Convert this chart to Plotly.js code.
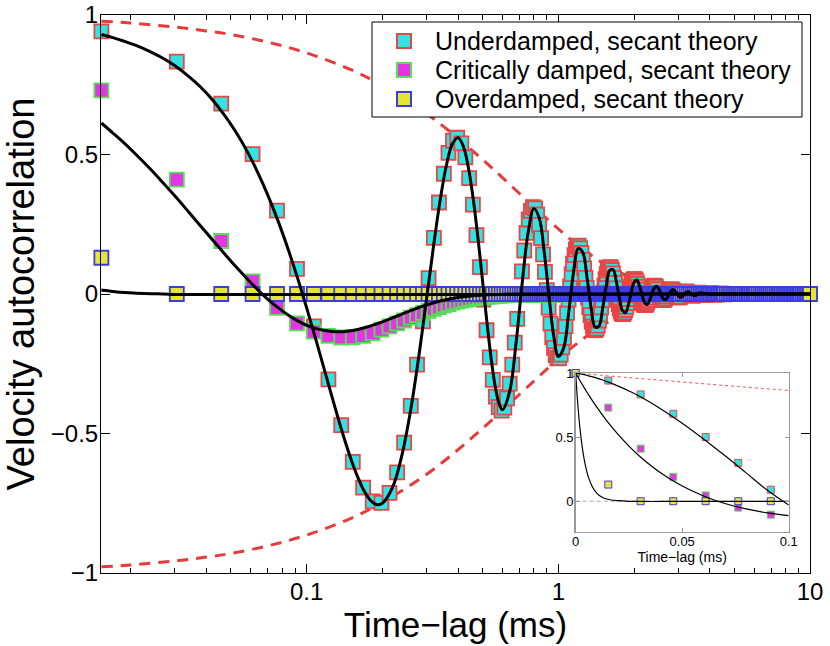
<!DOCTYPE html>
<html>
<head>
<meta charset="utf-8">
<script src="https://cdn.plot.ly/plotly-3.0.1.min.js"></script>
<style>
html, body { margin: 0; padding: 0; background: #ffffff; }
#chart { width: 830px; height: 646px; }
</style>
</head>
<body>
<div id="chart"></div>
<script>
// ---------------- data ----------------
const legendLabels = ['Underdamped, secant theory', 'Critically damped, secant theory', 'Overdamped, secant theory'];
const xTitle = 'Time\u2212lag (ms)';
const yTitle = 'Velocity autocorrelation';
const xTickVals = [0.1, 1, 10];
const xTickText = ['0.1', '1', '10'];
const xMinorTickVals = [0.02, 0.03, 0.04, 0.05, 0.06, 0.07, 0.08, 0.09, 0.2, 0.3, 0.4, 0.5, 0.6, 0.7, 0.8, 0.9, 2, 3, 4, 5, 6, 7, 8, 9];
const yTickVals = [-1, -0.5, 0, 0.5, 1];
const yTickText = ['\u22121', '\u22120.5', '0', '0.5', '1'];
const insetXTickVals = [0, 0.05, 0.1];
const insetXTickText = ['0', '0.05', '0.1'];
const insetYTickVals = [0, 0.5, 1];
const insetYTickText = ['0', '0.5', '1'];

// sampled time lags (ms)
const timeLag = [
0, 0.0153, 0.0305, 0.0458, 0.0610, 0.0763, 0.0916, 0.1068, 0.1221, 0.1373,
0.1526, 0.1678, 0.1831, 0.1984, 0.2136, 0.2289, 0.2441, 0.2594, 0.2747, 0.2899,
0.3052, 0.3204, 0.3357, 0.3510, 0.3662, 0.3815, 0.3967, 0.4120, 0.4273, 0.4425,
0.4578, 0.4730, 0.4883, 0.5035, 0.5188, 0.5341, 0.5493, 0.5646, 0.5798, 0.5951,
0.6104, 0.6256, 0.6409, 0.6561, 0.6714, 0.6867, 0.7019, 0.7172, 0.7324, 0.7477,
0.7630, 0.7782, 0.7935, 0.8087, 0.8240, 0.8392, 0.8545, 0.8698, 0.8850, 0.9003,
0.9155, 0.9308, 0.9461, 0.9613, 0.9766, 0.9918, 1.0071, 1.0224, 1.0376, 1.0529,
1.0681, 1.0834, 1.0986, 1.1139, 1.1292, 1.1444, 1.1597, 1.1749, 1.1902, 1.2055,
1.2207, 1.2360, 1.2512, 1.2665, 1.2818, 1.2970, 1.3123, 1.3275, 1.3428, 1.3581,
1.3733, 1.3886, 1.4038, 1.4191, 1.4343, 1.4496, 1.4649, 1.4801, 1.4954, 1.5106,
1.5259, 1.5412, 1.5564, 1.5717, 1.5869, 1.6022, 1.6175, 1.6327, 1.6480, 1.6632,
1.6785, 1.6937, 1.7090, 1.7243, 1.7395, 1.7548, 1.7700, 1.7853, 1.8006, 1.8158,
1.8311, 1.8463, 1.8616, 1.8769, 1.8921, 1.9074, 1.9226, 1.9379, 1.9532, 1.9684,
1.9837, 1.9989, 2.0142, 2.0294, 2.0447, 2.0600, 2.0752, 2.0905, 2.1057, 2.1210,
2.1363, 2.1515, 2.1668, 2.1820, 2.1973, 2.2126, 2.2278, 2.2431, 2.2583, 2.2736,
2.2889,
2.3194, 2.3499, 2.3804, 2.4109, 2.4414, 2.4720, 2.5025, 2.5330, 2.5635, 2.5940,
2.6245, 2.6551, 2.6856, 2.7161, 2.7466, 2.7771, 2.8077, 2.8382, 2.8687, 2.8992,
2.9297, 2.9602, 2.9908, 3.0213, 3.0518,
3.1128, 3.1739, 3.2349, 3.2959, 3.3570, 3.4180, 3.4791, 3.5401, 3.6011, 3.6622,
3.7232, 3.7842, 3.8453, 3.9063, 3.9673, 4.0284, 4.0894, 4.1504, 4.2115, 4.2725,
4.3336, 4.3946, 4.4556, 4.5167, 4.5777,
4.6693, 4.7608, 4.8524, 4.9439, 5.0355, 5.1270, 5.2186, 5.3101, 5.4017, 5.4932,
5.5848, 5.6763, 5.7679, 5.8595, 5.9510, 6.0426, 6.1341,
6.2562, 6.3783, 6.5003, 6.6224, 6.7445, 6.8666, 6.9886, 7.1107, 7.2328, 7.3548,
7.4769, 7.5990, 7.7211, 7.8431, 7.9652, 8.0873, 8.2093, 8.3314, 8.4535, 8.5756,
8.6976, 8.8197, 8.9418, 9.0638, 9.1859,
9.3385, 9.4911, 9.6437, 9.7963, 9.9489, 9.9946
];

// secant-theory markers
const underdamped = [
1, 0.941, 0.833, 0.682, 0.501, 0.299, 0.090, -0.116, -0.306, -0.470,
-0.602, -0.694, -0.743, -0.749, -0.713, -0.639, -0.533, -0.401, -0.253, -0.098,
0.057, 0.201, 0.328, 0.431, 0.506, 0.550, 0.560, 0.540, 0.490, 0.415,
0.320, 0.211, 0.096, -0.020, -0.130, -0.227, -0.308, -0.368, -0.405, -0.418,
-0.407, -0.374, -0.321, -0.253, -0.174, -0.089, -0.002, 0.081, 0.156, 0.219,
0.267, 0.298, 0.311, 0.307, 0.285, 0.248, 0.200, 0.142, 0.079, 0.014,
-0.049, -0.106, -0.155, -0.193, -0.219, -0.231, -0.230, -0.217, -0.191, -0.157,
-0.115, -0.068, -0.020, 0.027, 0.071, 0.109, 0.139, 0.160, 0.171, 0.173,
0.164, 0.147, 0.122, 0.092, 0.058, 0.022, -0.013, -0.047, -0.076, -0.100,
-0.117, -0.127, -0.129, -0.124, -0.113, -0.095, -0.073, -0.048, -0.022, 0.005,
0.030, 0.053, 0.071, 0.085, 0.093, 0.096, 0.094, 0.086, 0.074, 0.058,
0.040, 0.020, 0.000, -0.019, -0.036, -0.051, -0.062, -0.069, -0.072, -0.071,
-0.066, -0.057, -0.046, -0.033, -0.018, -0.003, 0.011, 0.025, 0.036, 0.045,
0.050, 0.053, 0.053, 0.050, 0.044, 0.036, 0.026, 0.016, 0.004, -0.006,
-0.016, -0.025, -0.032, -0.037, -0.039, -0.040, -0.038, -0.034, -0.028, -0.021,
-0.013,
0.003, 0.018, 0.027, 0.030, 0.026, 0.017, 0.005, -0.007, -0.016, -0.022,
-0.022, -0.017, -0.009, 0.000, 0.008, 0.014, 0.017, 0.015, 0.011, 0.004,
-0.003, -0.008, -0.012, -0.012, -0.010,
-0.001, 0.007, 0.009, 0.003, -0.004, -0.007, -0.004, 0.002, 0.005, 0.004,
0.000, -0.003, -0.003, -0.001, 0.002, 0.003, 0.001, -0.001, -0.002, -0.001,
0.000, 0.001, 0.001, 0.000, -0.001,
0, 0, 0, 0, 0, 0, 0, 0, 0, 0,
0, 0, 0, 0, 0, 0, 0, 0, 0, 0,
0, 0, 0, 0, 0, 0, 0, 0, 0, 0,
0, 0, 0, 0, 0, 0, 0, 0, 0, 0,
0, 0, 0, 0, 0, 0, 0, 0
];

const criticallyDamped = [
1, 0.73, 0.41, 0.19, 0.045, -0.05, -0.105, -0.135, -0.150, -0.156,
-0.155, -0.150, -0.140, -0.128, -0.116, -0.105, -0.095, -0.085, -0.076, -0.068,
-0.060, -0.053, -0.047, -0.041, -0.036, -0.031, -0.027, -0.024, -0.021, -0.018,
-0.016, -0.014, -0.012, -0.011, -0.010, -0.009, -0.008, -0.007, -0.006, -0.006,
-0.005, -0.004, -0.004, -0.004, -0.004, -0.003, -0.003, -0.003, -0.003, -0.003,
-0.003, -0.002, -0.002, -0.002, -0.002, -0.002, -0.002, -0.002, -0.002, -0.001,
-0.001, -0.001, -0.001, -0.001, -0.001, -0.001, -0.001, -0.001, -0.001, -0.001,
-0.001,
0, 0, 0, 0, 0, 0, 0, 0, 0, 0,
0, 0, 0, 0, 0, 0, 0, 0, 0, 0,
0, 0, 0, 0, 0, 0, 0, 0, 0, 0,
0, 0, 0, 0, 0, 0, 0, 0, 0, 0,
0, 0, 0, 0, 0, 0, 0, 0, 0, 0,
0, 0, 0, 0, 0, 0, 0, 0, 0, 0,
0, 0, 0, 0, 0, 0, 0, 0, 0, 0,
0, 0, 0, 0, 0, 0, 0, 0, 0, 0,
0, 0, 0, 0, 0, 0, 0, 0, 0, 0,
0, 0, 0, 0, 0, 0, 0, 0, 0, 0,
0, 0, 0, 0, 0, 0, 0, 0, 0, 0,
0, 0, 0, 0, 0, 0, 0, 0, 0, 0,
0, 0, 0, 0, 0, 0, 0, 0, 0, 0,
0, 0, 0, 0, 0, 0, 0, 0, 0, 0,
0, 0, 0, 0, 0, 0, 0, 0, 0, 0,
0, 0, 0, 0, 0, 0, 0, 0, 0, 0,
0, 0, 0, 0, 0, 0, 0, 0, 0, 0,
0, 0, 0, 0, 0, 0, 0, 0
];

const overdamped = [
1, 0.13,
0, 0, 0, 0, 0, 0, 0, 0, 0, 0,
0, 0, 0, 0, 0, 0, 0, 0, 0, 0,
0, 0, 0, 0, 0, 0, 0, 0, 0, 0,
0, 0, 0, 0, 0, 0, 0, 0, 0, 0,
0, 0, 0, 0, 0, 0, 0, 0, 0, 0,
0, 0, 0, 0, 0, 0, 0, 0, 0, 0,
0, 0, 0, 0, 0, 0, 0, 0, 0, 0,
0, 0, 0, 0, 0, 0, 0, 0, 0, 0,
0, 0, 0, 0, 0, 0, 0, 0, 0, 0,
0, 0, 0, 0, 0, 0, 0, 0, 0, 0,
0, 0, 0, 0, 0, 0, 0, 0, 0, 0,
0, 0, 0, 0, 0, 0, 0, 0, 0, 0,
0, 0, 0, 0, 0, 0, 0, 0, 0, 0,
0, 0, 0, 0, 0, 0, 0, 0, 0, 0,
0, 0, 0, 0, 0, 0, 0, 0, 0, 0,
0, 0, 0, 0, 0, 0, 0, 0, 0, 0,
0, 0, 0, 0, 0, 0, 0, 0, 0, 0,
0, 0, 0, 0, 0, 0, 0, 0, 0, 0,
0, 0, 0, 0, 0, 0, 0, 0, 0, 0,
0, 0, 0, 0, 0, 0, 0, 0, 0, 0,
0, 0, 0, 0, 0, 0, 0, 0, 0, 0,
0, 0, 0, 0, 0, 0, 0, 0, 0, 0,
0, 0, 0, 0, 0, 0, 0, 0, 0, 0,
0, 0, 0, 0, 0, 0, 0, 0, 0, 0,
0, 0, 0, 0, 0, 0, 0
];

// exact theory (black curves)
const theoryTime = [
0.0153, 0.017, 0.019, 0.021, 0.024, 0.027, 0.030, 0.034, 0.038, 0.042,
0.047, 0.052, 0.058, 0.064, 0.070, 0.077, 0.085, 0.093, 0.10, 0.11,
0.12, 0.13, 0.14, 0.15, 0.16, 0.17, 0.18, 0.19, 0.20,
0.22, 0.24, 0.26, 0.28, 0.30, 0.32, 0.34, 0.36, 0.38, 0.40,
0.42, 0.44, 0.46, 0.48, 0.50, 0.52, 0.54, 0.56, 0.58, 0.60,
0.64, 0.68, 0.72, 0.76, 0.80, 0.84, 0.88, 0.92, 0.96, 1.00,
1.05, 1.10, 1.15, 1.20, 1.25, 1.30, 1.35, 1.40, 1.45, 1.50,
1.55, 1.60, 1.65, 1.70, 1.75, 1.80, 1.85, 1.90, 1.95, 2.00,
2.05, 2.10, 2.15, 2.20, 2.25, 2.30, 2.35, 2.40, 2.45, 2.50,
2.56, 2.62, 2.68, 2.74, 2.80, 2.86, 2.92, 2.98, 3.04, 3.10,
3.16, 3.22, 3.28, 3.34, 3.40, 3.46, 3.52, 3.58, 3.64, 3.70,
4.0, 5.0, 6.0, 8.0, 10.0
];
const underdampedTheory = [
0.930, 0.919, 0.905, 0.891, 0.868, 0.844, 0.818, 0.780, 0.741, 0.699,
0.643, 0.585, 0.512, 0.435, 0.356, 0.262, 0.153, 0.045, -0.049, -0.178,
-0.299, -0.410, -0.508, -0.591, -0.658, -0.709, -0.741, -0.755, -0.750,
-0.691, -0.572, -0.408, -0.215, -0.014, 0.177, 0.341, 0.465, 0.539, 0.560,
0.528, 0.450, 0.336, 0.197, 0.048, -0.097, -0.225, -0.325, -0.389, -0.415,
-0.351, -0.173, 0.046, 0.224, 0.306, 0.272, 0.148, -0.014, -0.153, -0.224,
-0.194, -0.066, 0.079, 0.163, 0.150, 0.060, -0.049, -0.118, -0.115, -0.053,
0.029, 0.084, 0.088, 0.045, -0.016, -0.060, -0.067, -0.038, 0.007, 0.042,
0.050, 0.031, -0.002, -0.030, -0.038, -0.025, -0.001, 0.020, 0.028, 0.020,
-0.001, -0.018, -0.019, -0.006, 0.009, 0.016, 0.009, -0.003, -0.011, -0.010,
-0.002, 0.006, 0.008, 0.004, -0.002, -0.006, -0.005, 0.000, 0.004, 0.004,
0.000, 0, 0, 0, 0
];
const smoothTime = [
0.0153, 0.017, 0.019, 0.021, 0.024, 0.027, 0.030, 0.034, 0.038, 0.042,
0.047, 0.052, 0.058, 0.064, 0.070, 0.077, 0.085, 0.093, 0.10, 0.11,
0.12, 0.13, 0.14, 0.15, 0.16, 0.17, 0.18, 0.19, 0.20,
0.22, 0.24, 0.26, 0.28, 0.30, 0.34, 0.38, 0.42, 0.46, 0.50,
0.60, 0.70, 0.80, 1.0, 1.5, 2.0, 3.0, 5.0, 10.0
];
const criticalTheory = [
0.613, 0.577, 0.538, 0.500, 0.447, 0.397, 0.351, 0.294, 0.243, 0.197,
0.146, 0.101, 0.055, 0.015, -0.018, -0.049, -0.077, -0.098, -0.112, -0.125,
-0.132, -0.135, -0.135, -0.132, -0.127, -0.121, -0.114, -0.107, -0.100,
-0.085, -0.071, -0.059, -0.048, -0.039, -0.025, -0.016, -0.010, -0.006, -0.004,
-0.001, 0.000, 0, 0, 0, 0, 0, 0, 0
];
const overdampedTheory = [
0.014, 0.009, 0.005, 0.003, 0.001, 0, -0.002, -0.002, -0.002, -0.002,
-0.002, -0.002, -0.002, -0.002, -0.002, -0.002, -0.002, -0.002, -0.002, -0.002,
-0.002, -0.002, -0.002, -0.002, -0.002, -0.002, -0.002, -0.002, -0.002,
-0.002, -0.002, -0.002, -0.002, -0.002, -0.002, -0.002, -0.002, -0.002, -0.002,
-0.002, -0.002, -0.002, -0.001, -0.001, 0, 0, 0, 0
];

// damping envelope (red dashed)
const envelopeTime = [0.0153, 0.02, 0.03, 0.04, 0.05, 0.07, 0.1, 0.15, 0.2, 0.3, 0.4, 0.5, 0.6, 0.8, 1.0, 1.2, 1.5, 2.0, 2.5, 3.0, 4.0, 6.0, 10.0];
const envelopeUpper = [0.978, 0.971, 0.957, 0.943, 0.930, 0.903, 0.864, 0.804, 0.747, 0.646, 0.558, 0.482, 0.417, 0.312, 0.233, 0.174, 0.112, 0.054, 0.026, 0.013, 0.003, 0.000, 0.000];
const envelopeLower = [-0.978, -0.971, -0.957, -0.943, -0.930, -0.903, -0.864, -0.804, -0.747, -0.646, -0.558, -0.482, -0.417, -0.312, -0.233, -0.174, -0.112, -0.054, -0.026, -0.013, -0.003, 0.000, 0.000];

// inset (linear time axis)
const insetTime = [0, 0.001, 0.002, 0.003, 0.004, 0.005, 0.006, 0.008, 0.010, 0.012, 0.015, 0.020, 0.025, 0.030, 0.040, 0.050, 0.060, 0.070, 0.080, 0.090, 0.100];
const insetUnderTheory = [1.000, 0.997, 0.994, 0.990, 0.987, 0.983, 0.978, 0.970, 0.960, 0.949, 0.931, 0.898, 0.860, 0.818, 0.720, 0.609, 0.486, 0.356, 0.221, 0.085, -0.030];
const insetCritTheory = [1.000, 0.970, 0.941, 0.913, 0.885, 0.858, 0.832, 0.781, 0.732, 0.685, 0.619, 0.519, 0.430, 0.351, 0.220, 0.118, 0.041, -0.018, -0.060, -0.091, -0.112];
const insetOverTheory = [1.000, 0.756, 0.571, 0.432, 0.326, 0.247, 0.186, 0.107, 0.061, 0.035, 0.015, 0.004, -0.001, -0.002, -0.002, -0.002, -0.002, -0.002, -0.002, -0.002, -0.002];
const insetEnvTime = [0, 0.025, 0.05, 0.075, 0.1];
const insetEnvelope = [1, 0.964, 0.930, 0.896, 0.864];
const insetZeroTime = [0, 0.1];
const insetZeroLine = [0, 0];

// ---------------- styles ----------------
const FONT = 'Liberation Sans, Arial, Helvetica, sans-serif';
const W = 830, H = 646;
const M = {l: 101, r: 20, t: 15, b: 73};
const PW = W - M.l - M.r, PH = H - M.t - M.b;
const px2x = function (px) { return (px - M.l) / PW; };
const py2y = function (py) { return (H - M.b - py) / PH; };

const styles = [
  {fill: '#33E3E3', edge: '#E84545'},
  {fill: '#E236E2', edge: '#55E055'},
  {fill: '#E6E632', edge: '#3C3CE6'}
];
const seriesY = [underdamped, criticallyDamped, overdamped];

const traces = [];
// envelope (main)
traces.push({x: envelopeTime, y: envelopeUpper, mode: 'lines', line: {color: '#E83A3A', width: 3, dash: '11px,8px', shape: 'spline'}, showlegend: false, hoverinfo: 'skip'});
traces.push({x: envelopeTime, y: envelopeLower, mode: 'lines', line: {color: '#E83A3A', width: 3, dash: '11px,8px', shape: 'spline'}, showlegend: false, hoverinfo: 'skip'});
// markers (main)
for (let i = 0; i < 3; i++) {
  traces.push({
    x: timeLag, y: seriesY[i], mode: 'markers', name: legendLabels[i],
    marker: {symbol: 'square', size: 14, color: styles[i].fill, line: {color: styles[i].edge, width: 1.8}},
    cliponaxis: false, showlegend: false
  });
}
// theory lines (main)
traces.push({x: theoryTime, y: underdampedTheory, mode: 'lines', line: {color: '#000', width: 3, shape: 'spline', smoothing: 1}, showlegend: false});
traces.push({x: smoothTime, y: criticalTheory, mode: 'lines', line: {color: '#000', width: 3, shape: 'spline', smoothing: 1}, showlegend: false});
traces.push({x: smoothTime, y: overdampedTheory, mode: 'lines', line: {color: '#000', width: 3, shape: 'spline', smoothing: 1}, showlegend: false});
// inset
traces.push({x: insetZeroTime, y: insetZeroLine, xaxis: 'x2', yaxis: 'y2', mode: 'lines', line: {color: '#AAAAAA', width: 1, dash: '4px,3px'}, showlegend: false});
traces.push({x: insetEnvTime, y: insetEnvelope, xaxis: 'x2', yaxis: 'y2', mode: 'lines', line: {color: '#EE5050', width: 1, dash: '3px,3px', shape: 'spline'}, showlegend: false});
for (let i = 0; i < 3; i++) {
  traces.push({
    x: timeLag, y: seriesY[i], xaxis: 'x2', yaxis: 'y2', mode: 'markers',
    marker: {symbol: 'square', size: 7, color: styles[i].fill, line: {color: styles[i].edge, width: 1}},
    cliponaxis: false, showlegend: false
  });
}
traces.push({x: insetTime, y: insetUnderTheory, xaxis: 'x2', yaxis: 'y2', mode: 'lines', line: {color: '#000', width: 1.2, shape: 'spline'}, showlegend: false});
traces.push({x: insetTime, y: insetCritTheory, xaxis: 'x2', yaxis: 'y2', mode: 'lines', line: {color: '#000', width: 1.2, shape: 'spline'}, showlegend: false});
traces.push({x: insetTime, y: insetOverTheory, xaxis: 'x2', yaxis: 'y2', mode: 'lines', line: {color: '#000', width: 1.2, shape: 'spline'}, showlegend: false});

// ---------------- legend (box, glyphs, labels) ----------------
const legendBox = {left: 372, right: 802, top: 22, bottom: 117};
const legendRowY = [41, 70, 99];
const legendGlyphX = 404, legendGlyphHalf = 7, legendTextX = 433;
const shapes = [{
  type: 'rect', xref: 'paper', yref: 'paper', layer: 'above',
  x0: px2x(legendBox.left), x1: px2x(legendBox.right),
  y0: py2y(legendBox.bottom), y1: py2y(legendBox.top),
  fillcolor: '#ffffff', line: {color: '#000', width: 1}
}];
const annotations = [];
for (let i = 0; i < 3; i++) {
  shapes.push({
    type: 'rect', xref: 'paper', yref: 'paper', layer: 'above',
    x0: px2x(legendGlyphX - legendGlyphHalf), x1: px2x(legendGlyphX + legendGlyphHalf),
    y0: py2y(legendRowY[i] + legendGlyphHalf), y1: py2y(legendRowY[i] - legendGlyphHalf),
    fillcolor: styles[i].fill, line: {color: styles[i].edge, width: 2}
  });
  annotations.push({
    xref: 'paper', yref: 'paper', x: px2x(legendTextX), y: py2y(legendRowY[i]),
    xanchor: 'left', yanchor: 'middle', showarrow: false,
    text: legendLabels[i], font: {family: FONT, size: 25, color: '#000'}
  });
}

const layout = {
  width: W, height: H,
  margin: M,
  paper_bgcolor: '#ffffff', plot_bgcolor: '#ffffff',
  font: {family: FONT, color: '#000', size: 24},
  showlegend: false,
  shapes: shapes,
  annotations: annotations,
  xaxis: {
    type: 'log', range: [-1.8168, 1], domain: [0, 1], anchor: 'y',
    tickmode: 'array', tickvals: xTickVals, ticktext: xTickText,
    ticks: 'inside', ticklen: 9, tickwidth: 1, tickcolor: '#000',
    showline: true, linecolor: '#000', linewidth: 1, mirror: 'allticks',
    showgrid: false, zeroline: false, tickfont: {size: 24}, ticklabelstandoff: -3,
    minor: {tickmode: 'array', tickvals: xMinorTickVals, ticks: 'inside', ticklen: 5, tickwidth: 1, tickcolor: '#000', showgrid: false},
    title: {text: xTitle, font: {size: 35}, standoff: 0}
  },
  yaxis: {
    range: [-1, 1], domain: [0, 1], anchor: 'x',
    tickmode: 'array', tickvals: yTickVals, ticktext: yTickText,
    ticks: 'inside', ticklen: 9, tickwidth: 1, tickcolor: '#000',
    showline: true, linecolor: '#000', linewidth: 1, mirror: 'allticks',
    showgrid: false, zeroline: false, tickfont: {size: 24}, ticklabelstandoff: -3,
    title: {text: yTitle, font: {size: 38}, standoff: 6}
  },
  xaxis2: {
    domain: [0.6695, 0.970], anchor: 'y2', range: [0, 0.1],
    tickmode: 'array', tickvals: insetXTickVals, ticktext: insetXTickText,
    ticks: 'inside', ticklen: 4, tickwidth: 1, tickcolor: '#999',
    showline: true, linecolor: '#9a9a9a', linewidth: 1.5, mirror: 'allticks',
    showgrid: false, zeroline: false, tickfont: {size: 13}, ticklabelstandoff: -3,
    title: {text: xTitle, font: {size: 14}, standoff: 0}
  },
  yaxis2: {
    domain: [0.0735, 0.3584], anchor: 'x2', range: [-0.24, 1],
    tickmode: 'array', tickvals: insetYTickVals, ticktext: insetYTickText,
    ticks: 'inside', ticklen: 4, tickwidth: 1, tickcolor: '#999',
    showline: true, linecolor: '#9a9a9a', linewidth: 1.5, mirror: 'allticks',
    showgrid: false, zeroline: false, tickfont: {size: 13}, ticklabelstandoff: -2
  }
};

Plotly.newPlot('chart', traces, layout, {staticPlot: true, displayModeBar: false});
</script>
</body>
</html>
